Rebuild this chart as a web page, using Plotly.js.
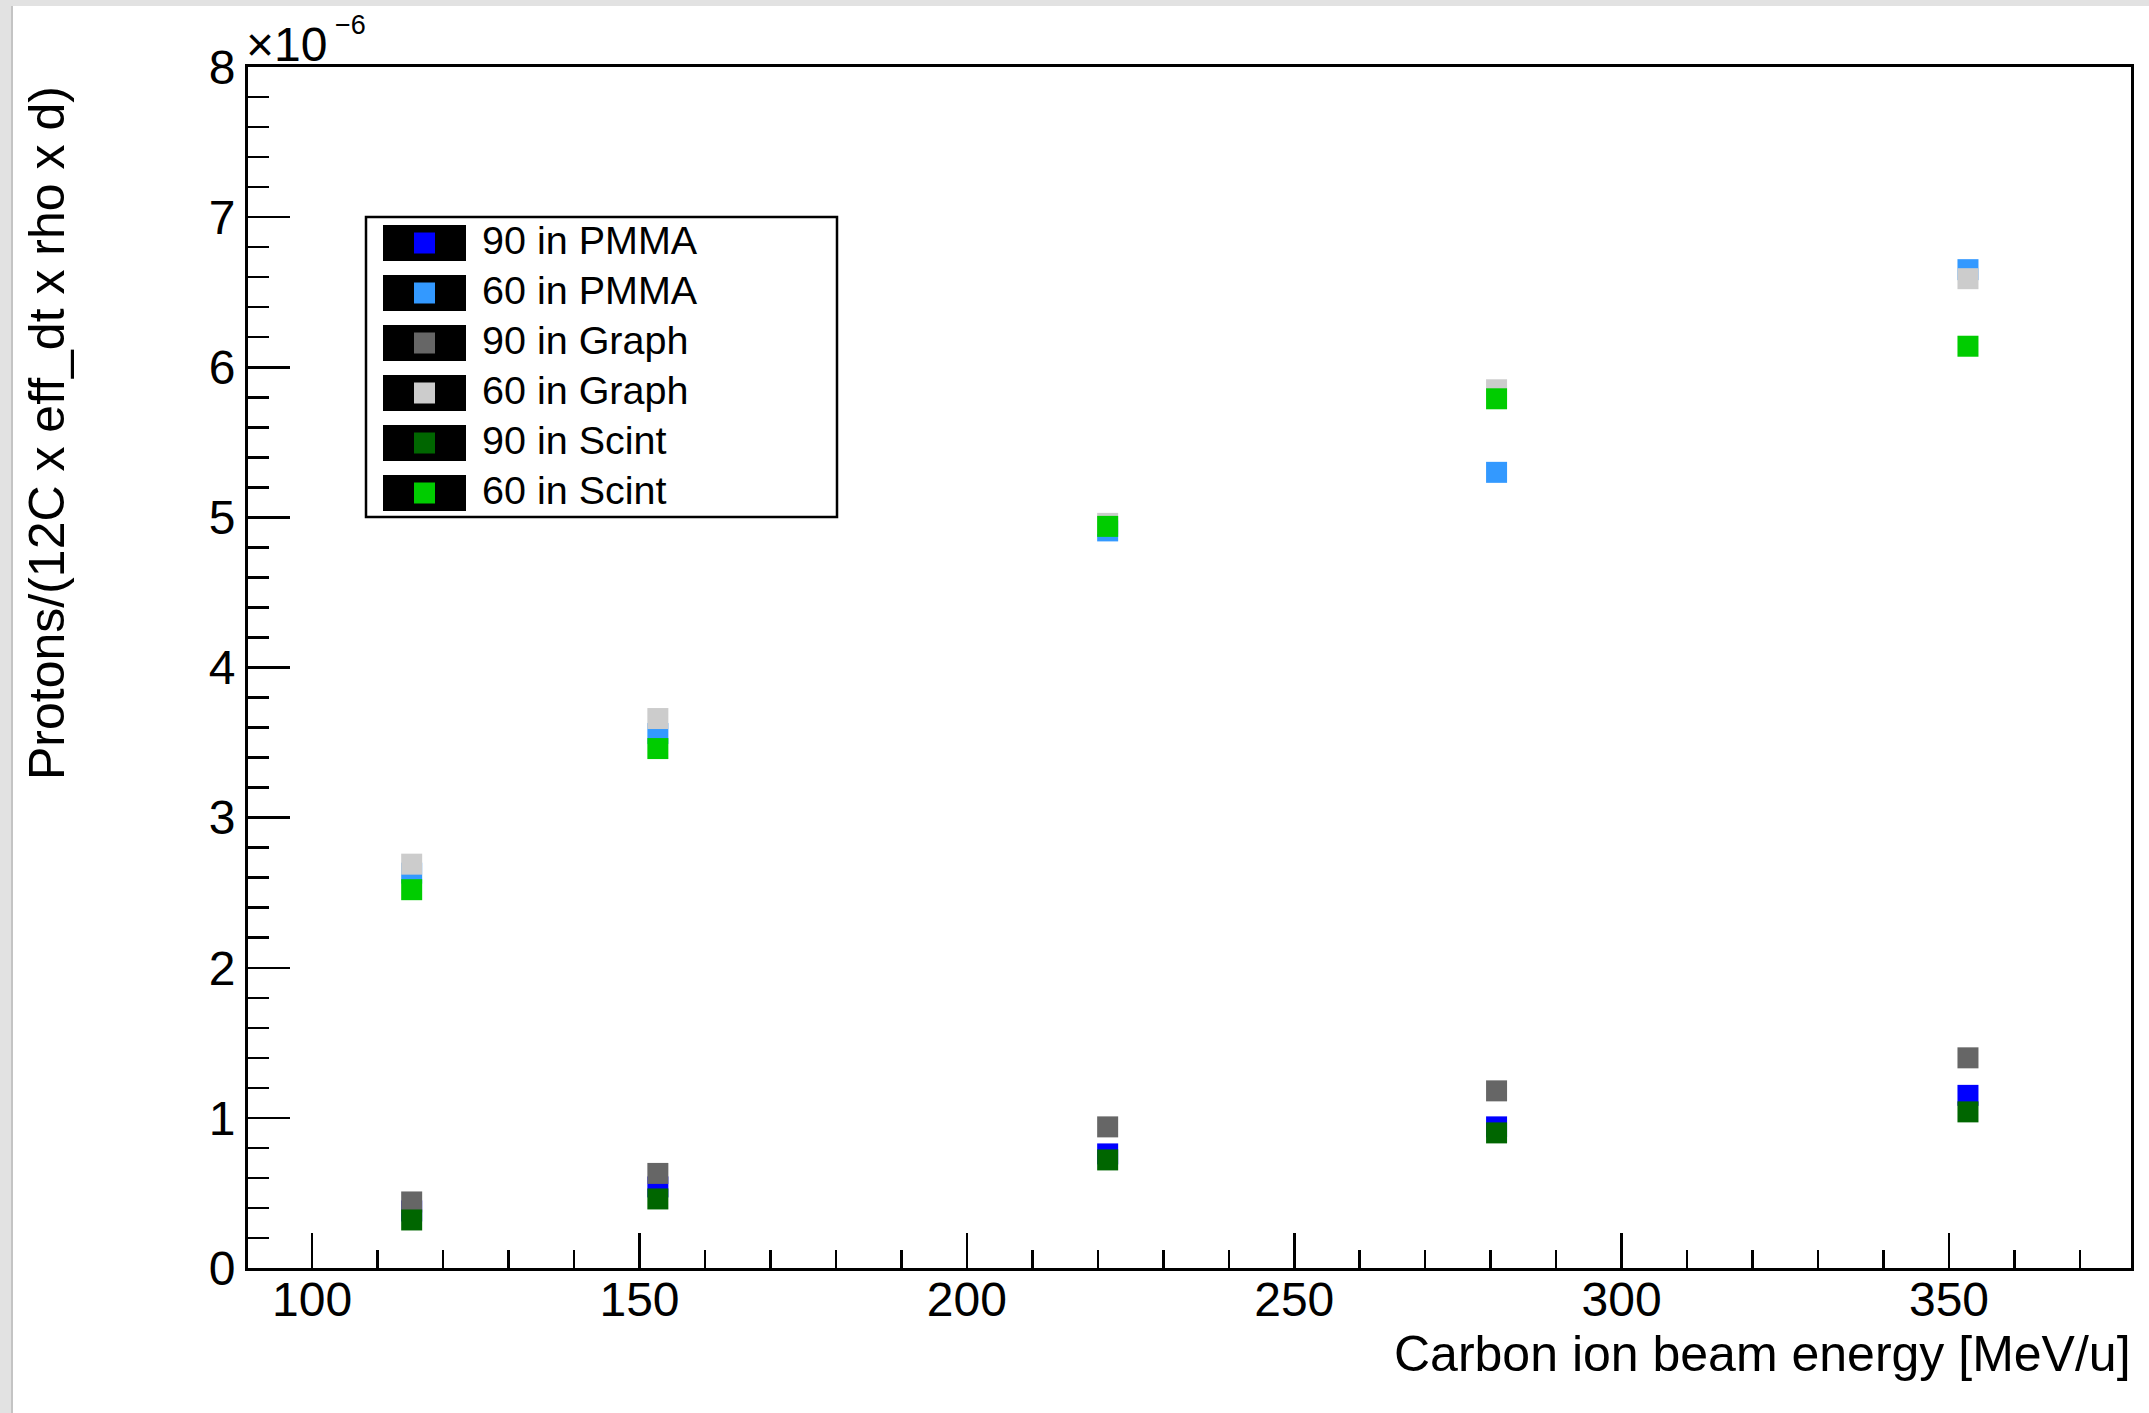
<!DOCTYPE html>
<html><head><meta charset="utf-8">
<script src="https://cdn.plot.ly/plotly-3.0.1.min.js"></script>
<style>html,body{margin:0;padding:0;background:#fff;} #chart{width:2149px;height:1413px;}</style>
</head><body><div id="chart"></div>
<script>
// ---- data (y values in units of 10^-6) ----
const energies = [115.2, 152.8, 221.5, 280.9, 352.9];
const seriesNames = ['90 in PMMA', '60 in PMMA', '90 in Graph', '60 in Graph', '90 in Scint', '60 in Scint'];
const seriesColors = ['#0000ff', '#3399ff', '#666666', '#cccccc', '#006600', '#00cc00'];
const pmma90  = [0.38, 0.54, 0.76, 0.94, 1.15];
const pmma60  = [2.63, 3.56, 4.91, 5.30, 6.65];
const graph90 = [0.44, 0.63, 0.94, 1.18, 1.40];
const graph60 = [2.69, 3.66, 4.96, 5.85, 6.59];
const scint90 = [0.32, 0.46, 0.72, 0.90, 1.04];
const scint60 = [2.52, 3.46, 4.94, 5.79, 6.14];
const yExponent = '−6';
const xTitle = 'Carbon ion beam energy [MeV/u]';
const yTitle = 'Protons/(12C x eff_dt x rho x d)';

const seriesValues = [pmma90, pmma60, graph90, graph60, scint90, scint60];

// ---- geometry ----
const W = 2149, H = 1413;
const M = {l: 248, r: 18, t: 67, b: 145};
const PW = W - M.l - M.r, PH = H - M.t - M.b;
const px = x => (x - M.l) / PW;
const py = y => 1 - (y - M.t) / PH;
const FONT = 'Liberation Sans, Arial, Helvetica, sans-serif';

const traces = seriesValues.map((vals, i) => ({
  type: 'scatter', mode: 'markers', x: energies, y: vals, name: seriesNames[i],
  marker: {symbol: 'square', size: 21, color: seriesColors[i], line: {width: 0}},
  showlegend: false, hoverinfo: 'skip'
}));

const shapes = [];
const annotations = [];

// window-shadow strips of the screenshot
shapes.push({type: 'rect', xref: 'paper', yref: 'paper', x0: px(0), x1: px(11), y0: py(H), y1: py(0), fillcolor: '#e2e2e2', line: {width: 0}, layer: 'above'});
shapes.push({type: 'rect', xref: 'paper', yref: 'paper', x0: px(11), x1: px(13), y0: py(H), y1: py(0), fillcolor: '#c4c4c4', line: {width: 0}, layer: 'above'});
shapes.push({type: 'rect', xref: 'paper', yref: 'paper', x0: px(0), x1: px(W), y0: py(6), y1: py(0), fillcolor: '#e2e2e2', line: {width: 0}, layer: 'above'});

// legend box
shapes.push({type: 'rect', xref: 'paper', yref: 'paper', x0: px(366), x1: px(837), y0: py(517), y1: py(217), fillcolor: '#ffffff', line: {color: '#000', width: 2.5}, layer: 'above'});
seriesNames.forEach((name, i) => {
  const cy = 243 + 50 * i;
  shapes.push({type: 'rect', xref: 'paper', yref: 'paper', x0: px(383), x1: px(466), y0: py(cy + 18), y1: py(cy - 18), fillcolor: '#000000', line: {width: 0}, layer: 'above'});
  shapes.push({type: 'rect', xref: 'paper', yref: 'paper', x0: px(414), x1: px(435), y0: py(cy + 10.5), y1: py(cy - 10.5), fillcolor: seriesColors[i], line: {width: 0}, layer: 'above'});
  annotations.push({xref: 'paper', yref: 'paper', x: px(480), y: py(cy - 3), xanchor: 'left', yanchor: 'middle', text: name, showarrow: false, font: {family: FONT, size: 39.5, color: '#000'}});
});

// axis titles
annotations.push({xref: 'paper', yref: 'paper', x: px(2133), y: py(1354), xanchor: 'right', yanchor: 'middle', text: xTitle, showarrow: false, font: {family: FONT, size: 50, color: '#000'}});
annotations.push({xref: 'paper', yref: 'paper', x: px(47), y: py(84), xanchor: 'center', yanchor: 'top', textangle: -90, text: yTitle, showarrow: false, font: {family: FONT, size: 50, color: '#000'}});
// exponent
annotations.push({xref: 'paper', yref: 'paper', x: px(244), y: py(45), xanchor: 'left', yanchor: 'middle', text: '×10', showarrow: false, font: {family: FONT, size: 48, color: '#000'}});
annotations.push({xref: 'paper', yref: 'paper', x: px(333), y: py(25), xanchor: 'left', yanchor: 'middle', text: yExponent, showarrow: false, font: {family: FONT, size: 27, color: '#000'}});

const layout = {
  width: W, height: H,
  margin: M,
  paper_bgcolor: '#fff', plot_bgcolor: '#fff',
  font: {family: FONT, size: 48, color: '#000'},
  showlegend: false,
  xaxis: {
    range: [90.2, 377.8], tickmode: 'linear', tick0: 0, dtick: 50,
    ticks: 'inside', ticklen: 35, tickwidth: 2.5, tickcolor: '#000',
    minor: {dtick: 10, ticks: 'inside', ticklen: 18, tickwidth: 2.5, tickcolor: '#000'},
    showline: true, linewidth: 3, linecolor: '#000', mirror: true,
    showgrid: false, zeroline: false, ticklabelstandoff: -13,
    tickfont: {family: FONT, size: 48, color: '#000'}
  },
  yaxis: {
    range: [0, 8], tickmode: 'linear', tick0: 0, dtick: 1,
    ticks: 'inside', ticklen: 42, tickwidth: 2.5, tickcolor: '#000',
    minor: {dtick: 0.2, ticks: 'inside', ticklen: 21, tickwidth: 2.5, tickcolor: '#000'},
    showline: true, linewidth: 3, linecolor: '#000', mirror: true,
    showgrid: false, zeroline: false,
    tickfont: {family: FONT, size: 48, color: '#000'}
  },
  shapes: shapes,
  annotations: annotations
};

Plotly.newPlot('chart', traces, layout, {displayModeBar: false, staticPlot: true});
</script>
</body></html>
